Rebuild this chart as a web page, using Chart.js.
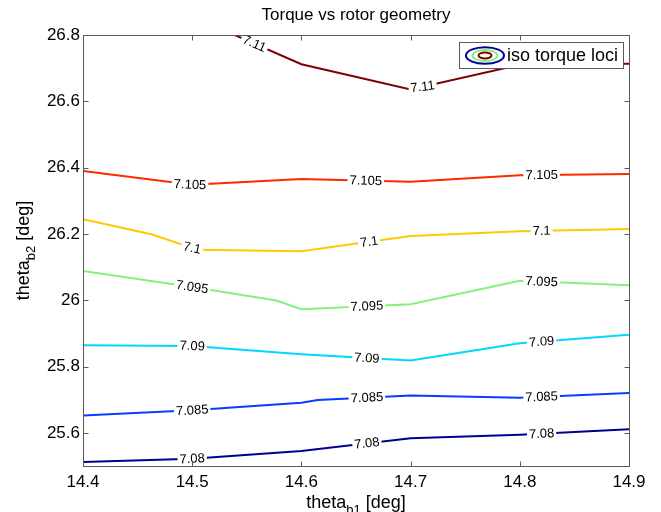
<!DOCTYPE html>
<html>
<head>
<meta charset="utf-8">
<script src="https://cdn.jsdelivr.net/npm/chart.js@4.4.0/dist/chart.umd.min.js"></script>
<style>
html,body{margin:0;padding:0;background:#fff;}
#wrap{width:661px;height:512px;position:relative;}
</style>
</head>
<body>
<div id="wrap"><canvas id="c"></canvas></div>
<script>
// ---- data ----
const levels = ['7.08', '7.085', '7.09', '7.095', '7.1', '7.105', '7.11'];
const lineColors = ['#00008f', '#0a3cff', '#00d8ff', '#84f27a', '#ffc800', '#ff2a00', '#800000'];

const x708  = [14.4, 14.5, 14.6, 14.7, 14.8, 14.9];
const y708  = [25.512, 25.522, 25.545, 25.584, 25.594, 25.611];
const x7085 = [14.4, 14.5, 14.6, 14.615, 14.7, 14.8, 14.9];
const y7085 = [25.652, 25.668, 25.691, 25.699, 25.713, 25.706, 25.720];
const x709  = [14.4, 14.5, 14.6, 14.7, 14.8, 14.9];
const y709  = [25.864, 25.862, 25.837, 25.818, 25.870, 25.896];
const x7095 = [14.4, 14.5, 14.577, 14.6, 14.7, 14.8, 14.9];
const y7095 = [26.088, 26.040, 25.999, 25.973, 25.988, 26.059, 26.045];
const x71   = [14.4, 14.4626, 14.505, 14.6, 14.7, 14.8, 14.9];
const y71   = [26.244, 26.199, 26.152, 26.148, 26.194, 26.208, 26.215];
const x7105 = [14.4, 14.5, 14.6, 14.7, 14.8, 14.9];
const y7105 = [26.390, 26.348, 26.366, 26.357, 26.377, 26.381];
const x711  = [14.539, 14.6, 14.7, 14.8, 14.9];
const y711  = [26.800, 26.712, 26.636, 26.710, 26.713];

// x positions of the inline contour labels
const lab708  = [14.5, 14.66, 14.82];
const lab7085 = [14.5, 14.66, 14.82];
const lab709  = [14.5, 14.66, 14.82];
const lab7095 = [14.5, 14.66, 14.82];
const lab71   = [14.5, 14.662, 14.82];
const lab7105 = [14.498, 14.659, 14.82];
const lab711  = [14.557, 14.711];

const xTicks = [14.4, 14.5, 14.6, 14.7, 14.8, 14.9];
const xTickLabels = ['14.4', '14.5', '14.6', '14.7', '14.8', '14.9'];
const yTicks = [25.6, 25.8, 26.0, 26.2, 26.4, 26.6, 26.8];
const yTickLabels = ['25.6', '25.8', '26', '26.2', '26.4', '26.6', '26.8'];

const titleText = 'Torque vs rotor geometry';
const legendText = 'iso torque loci';

const seriesX = [x708, x7085, x709, x7095, x71, x7105, x711];
const seriesY = [y708, y7085, y709, y7095, y71, y7105, y711];
const labelXs = [lab708, lab7085, lab709, lab7095, lab71, lab7105, lab711];

// ---- chart ----
const FONT = '"Liberation Sans", Arial, Helvetica, sans-serif';
Chart.defaults.font.family = FONT;
Chart.defaults.color = '#000';

function interpY(pts, xv) {
  let i = 0;
  while (i < pts.length - 2 && pts[i + 1].x < xv) i++;
  const p0 = pts[i], p1 = pts[i + 1];
  const t = (xv - p0.x) / (p1.x - p0.x);
  return p0.y + t * (p1.y - p0.y);
}

function drawSubText(ctx, main, sub, rest, size) {
  ctx.font = size + 'px ' + FONT;
  const w1 = ctx.measureText(main).width;
  const w3 = ctx.measureText(rest).width;
  ctx.font = Math.round(size * 0.72) + 'px ' + FONT;
  const w2 = ctx.measureText(sub).width;
  let x0 = -(w1 + w2 + w3) / 2;
  ctx.textAlign = 'left';
  ctx.textBaseline = 'alphabetic';
  ctx.font = size + 'px ' + FONT;
  ctx.fillText(main, x0, 0);
  ctx.font = Math.round(size * 0.72) + 'px ' + FONT;
  ctx.fillText(sub, x0 + w1, size * 0.32);
  ctx.font = size + 'px ' + FONT;
  ctx.fillText(rest, x0 + w1 + w2, 0);
}

const decor = {
  id: 'decor',
  afterDatasetsDraw(chart) {
    const { ctx, chartArea: a, scales: { x, y } } = chart;
    // inline contour labels
    ctx.save();
    ctx.beginPath();
    ctx.rect(a.left, a.top, a.right - a.left, a.bottom - a.top);
    ctx.clip();
    chart.data.datasets.forEach((ds, di) => {
      labelXs[di].forEach(xv => {
        const pts = ds.data;
        const yv = interpY(pts, xv);
        const d = 0.02;
        const xa = Math.max(xv - d, pts[0].x), xb = Math.min(xv + d, pts[pts.length - 1].x);
        const ang = Math.atan2(
          y.getPixelForValue(interpY(pts, xb)) - y.getPixelForValue(interpY(pts, xa)),
          x.getPixelForValue(xb) - x.getPixelForValue(xa));
        const px = x.getPixelForValue(xv), py = y.getPixelForValue(yv);
        ctx.save();
        ctx.translate(px, py);
        ctx.rotate(ang);
        ctx.font = '13px ' + FONT;
        const w = ctx.measureText(levels[di]).width;
        ctx.fillStyle = '#fff';
        ctx.fillRect(-w / 2 - 2, -5, w + 4, 10);
        ctx.fillStyle = '#000';
        ctx.textAlign = 'center';
        ctx.textBaseline = 'middle';
        ctx.fillText(levels[di], 0, 0.5);
        ctx.restore();
      });
    });
    ctx.restore();

    // axes box and inward ticks
    ctx.save();
    ctx.strokeStyle = '#5a5a5a';
    ctx.lineWidth = 1;
    const L = Math.round(a.left) + 0.5, R = Math.round(a.right) + 0.5;
    const T = Math.round(a.top) + 0.5, B = Math.round(a.bottom) + 0.5;
    ctx.strokeRect(L, T, R - L, B - T);
    ctx.beginPath();
    xTicks.forEach(v => {
      const px = Math.round(x.getPixelForValue(v)) + 0.5;
      ctx.moveTo(px, B); ctx.lineTo(px, B - 5);
      ctx.moveTo(px, T); ctx.lineTo(px, T + 5);
    });
    yTicks.forEach(v => {
      const py = Math.round(y.getPixelForValue(v)) + 0.5;
      ctx.moveTo(L, py); ctx.lineTo(L + 5, py);
      ctx.moveTo(R, py); ctx.lineTo(R - 5, py);
    });
    ctx.stroke();
    ctx.restore();

    // legend
    ctx.save();
    const bx = a.right - 170, by = a.top + 7, bw = 164, bh = 26;
    ctx.fillStyle = '#fff';
    ctx.fillRect(bx, by, bw, bh);
    ctx.strokeStyle = '#5a5a5a';
    ctx.lineWidth = 1;
    ctx.strokeRect(Math.round(bx) + 0.5, Math.round(by) + 0.5, bw, bh);
    const cx = bx + 26, cy = by + 13.5;
    [[19, 8.3, '#00009a'], [12.5, 5.5, '#84f27a'], [6.5, 3, '#800000']].forEach(e => {
      ctx.beginPath();
      ctx.ellipse(cx, cy, e[0], e[1], 0, 0, Math.PI * 2);
      ctx.strokeStyle = e[2];
      ctx.lineWidth = 2;
      ctx.stroke();
    });
    ctx.fillStyle = '#000';
    ctx.font = '18px ' + FONT;
    ctx.textAlign = 'left';
    ctx.textBaseline = 'middle';
    ctx.fillText(legendText, bx + 48, cy + 0.5);
    ctx.restore();

    // axis titles
    ctx.save();
    ctx.fillStyle = '#000';
    ctx.translate((a.left + a.right) / 2, 508);
    drawSubText(ctx, 'theta', 'b1', ' [deg]', 18);
    ctx.restore();
    ctx.save();
    ctx.fillStyle = '#000';
    ctx.translate(29, (a.top + a.bottom) / 2);
    ctx.rotate(-Math.PI / 2);
    drawSubText(ctx, 'theta', 'b2', ' [deg]', 18);
    ctx.restore();
  }
};

const datasets = levels.map((lv, i) => ({
  label: lv,
  data: seriesX[i].map((xv, j) => ({ x: xv, y: seriesY[i][j] })),
  borderColor: lineColors[i],
  backgroundColor: lineColors[i],
  borderWidth: 2,
  pointRadius: 0,
  showLine: true,
  fill: false,
  tension: 0
}));

new Chart(document.getElementById('c'), {
  type: 'scatter',
  data: { datasets },
  options: {
    responsive: true,
    maintainAspectRatio: false,
    animation: false,
    layout: { padding: { top: 0, right: 32, bottom: 0, left: 0 } },
    plugins: {
      legend: { display: false },
      tooltip: { enabled: false },
      title: {
        display: true,
        text: titleText,
        fullSize: false,
        font: { size: 17, weight: 'normal', family: FONT },
        color: '#000',
        padding: { top: 5, bottom: 9.6 }
      }
    },
    scales: {
      x: {
        type: 'linear',
        min: 14.4, max: 14.9,
        afterBuildTicks: s => { s.ticks = xTicks.map(v => ({ value: v })); },
        afterFit: s => { s.height = 46; },
        ticks: {
          callback: (v, i) => xTickLabels[i],
          font: { size: 17 },
          color: '#000',
          padding: 6,
          maxRotation: 0,
          autoSkip: false
        },
        grid: { display: false, drawTicks: false },
        border: { display: false }
      },
      y: {
        type: 'linear',
        min: 25.5, max: 26.8,
        afterBuildTicks: s => { s.ticks = yTicks.map(v => ({ value: v })); },
        afterFit: s => { s.width = 83; },
        ticks: {
          callback: (v, i) => yTickLabels[i],
          font: { size: 17 },
          color: '#000',
          padding: 3,
          autoSkip: false
        },
        grid: { display: false, drawTicks: false },
        border: { display: false }
      }
    }
  },
  plugins: [decor]
});
</script>
</body>
</html>
